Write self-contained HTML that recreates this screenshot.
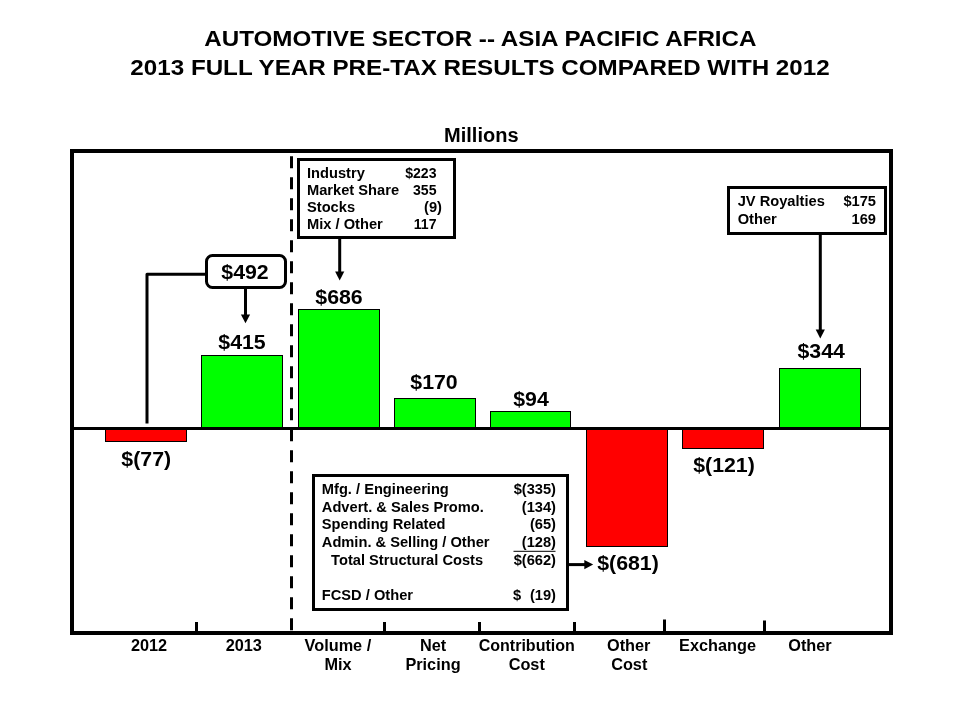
<!DOCTYPE html>
<html lang="en"><head><meta charset="utf-8"><title>Automotive Sector -- Asia Pacific Africa</title>
<style>
html,body{margin:0;padding:0;background:#fff;}
body{width:960px;height:720px;overflow:hidden;position:relative;}
svg{position:absolute;left:0;top:0;display:block;}
text{font-family:"Liberation Sans",Arial,Helvetica,sans-serif;font-weight:bold;fill:#000;}
</style></head><body>
<svg width="960" height="720" viewBox="0 0 960 720">
<rect width="960" height="720" fill="#fff"/>
<rect x="105.5" y="429.5" width="81" height="12" fill="#ff0000" stroke="#000" stroke-width="1"/>
<rect x="201.5" y="355.5" width="81" height="72" fill="#00ff00" stroke="#000" stroke-width="1"/>
<rect x="298.5" y="309.5" width="81" height="118" fill="#00ff00" stroke="#000" stroke-width="1"/>
<rect x="394.5" y="398.5" width="81" height="29" fill="#00ff00" stroke="#000" stroke-width="1"/>
<rect x="490.5" y="411.5" width="80" height="16" fill="#00ff00" stroke="#000" stroke-width="1"/>
<rect x="586.5" y="429.5" width="81" height="117" fill="#ff0000" stroke="#000" stroke-width="1"/>
<rect x="682.5" y="429.5" width="81" height="19" fill="#ff0000" stroke="#000" stroke-width="1"/>
<rect x="779.5" y="368.5" width="81" height="59" fill="#00ff00" stroke="#000" stroke-width="1"/>
<rect x="72" y="151" width="819" height="482" fill="none" stroke="#000" stroke-width="4"/>
<rect x="72" y="427" width="819" height="3" fill="#000"/>
<rect x="195" y="622" width="3" height="10" fill="#000"/>
<rect x="383" y="622" width="3" height="10" fill="#000"/>
<rect x="478" y="622" width="3" height="10" fill="#000"/>
<rect x="573" y="622" width="3" height="10" fill="#000"/>
<rect x="663" y="619.5" width="3" height="12.5" fill="#000"/>
<rect x="763" y="620.5" width="3" height="11.5" fill="#000"/>
<line x1="291.5" y1="156.25" x2="291.5" y2="632" stroke="#000" stroke-width="3" stroke-dasharray="12 9"/>
<polyline points="147,423.4 147,274.2 206,274.2" fill="none" stroke="#000" stroke-width="3" stroke-linejoin="round"/>
<rect x="206.5" y="255.5" width="79" height="32" rx="6" ry="6" fill="#fff" stroke="#000" stroke-width="3"/>
<line x1="245.5" y1="288" x2="245.5" y2="317.3" stroke="#000" stroke-width="3"/>
<polygon points="240.9,314.40000000000003 250.1,314.40000000000003 245.5,323.3" fill="#000"/>
<rect x="298.5" y="159.5" width="156" height="78" fill="#fff" stroke="#000" stroke-width="3"/>
<line x1="339.7" y1="238" x2="339.7" y2="274.4" stroke="#000" stroke-width="3"/>
<polygon points="335.09999999999997,271.5 344.3,271.5 339.7,280.4" fill="#000"/>
<rect x="728.5" y="187.5" width="157" height="46" fill="#fff" stroke="#000" stroke-width="3"/>
<line x1="820.3" y1="234" x2="820.3" y2="332.5" stroke="#000" stroke-width="3"/>
<polygon points="815.6999999999999,329.6 824.9,329.6 820.3,338.5" fill="#000"/>
<rect x="313.5" y="475.5" width="254" height="134" fill="#fff" stroke="#000" stroke-width="3"/>
<line x1="569" y1="564.6" x2="587" y2="564.6" stroke="#000" stroke-width="3"/>
<polygon points="584.3,560 584.3,569.2 593.2,564.6" fill="#000"/>
<rect x="513.5" y="550.8" width="42" height="1" fill="#000"/>
<text transform="translate(480.4,45.8) scale(1,0.945)" font-size="24.2" text-anchor="middle">AUTOMOTIVE SECTOR -- ASIA PACIFIC AFRICA</text>
<text transform="translate(480,74.6) scale(1,0.945)" font-size="24.2" text-anchor="middle">2013 FULL YEAR PRE-TAX RESULTS COMPARED WITH 2012</text>
<text x="481.3" y="141.7" font-size="20" text-anchor="middle">Millions</text>
<text transform="translate(146.2,465.8) scale(1,0.975)" font-size="21.33" text-anchor="middle">$(77)</text>
<text transform="translate(242,348.9) scale(1,0.975)" font-size="21.33" text-anchor="middle">$415</text>
<text transform="translate(245,279) scale(1,0.975)" font-size="21.33" text-anchor="middle">$492</text>
<text transform="translate(339,303.5) scale(1,0.975)" font-size="21.33" text-anchor="middle">$686</text>
<text transform="translate(434,388.6) scale(1,0.975)" font-size="21.33" text-anchor="middle">$170</text>
<text transform="translate(531,406) scale(1,0.975)" font-size="21.33" text-anchor="middle">$94</text>
<text transform="translate(628,569.8) scale(1,0.975)" font-size="21.33" text-anchor="middle">$(681)</text>
<text transform="translate(724,471.8) scale(1,0.975)" font-size="21.33" text-anchor="middle">$(121)</text>
<text transform="translate(821.2,357.5) scale(1,0.975)" font-size="21.33" text-anchor="middle">$344</text>
<text x="149" y="651" font-size="16.3" text-anchor="middle">2012</text>
<text x="243.75" y="651" font-size="16.3" text-anchor="middle">2013</text>
<text x="337.9" y="651" font-size="16.3" text-anchor="middle">Volume /</text>
<text x="338" y="670" font-size="16.3" text-anchor="middle">Mix</text>
<text x="433" y="651" font-size="16.3" text-anchor="middle">Net</text>
<text x="433" y="670" font-size="16.3" text-anchor="middle">Pricing</text>
<text x="526.75" y="651" font-size="16.05" text-anchor="middle">Contribution</text>
<text x="526.75" y="670" font-size="16.3" text-anchor="middle">Cost</text>
<text x="628.75" y="651" font-size="16.3" text-anchor="middle">Other</text>
<text x="629.25" y="670" font-size="16.3" text-anchor="middle">Cost</text>
<text x="717.5" y="651" font-size="16.3" text-anchor="middle">Exchange</text>
<text x="810" y="651" font-size="16.3" text-anchor="middle">Other</text>
<text x="307" y="177.7" font-size="14.67" text-anchor="start">Industry</text>
<text x="436.5" y="177.7" font-size="14.1" text-anchor="end">$223</text>
<text x="307" y="194.64999999999998" font-size="14.67" text-anchor="start">Market Share</text>
<text x="436.5" y="194.64999999999998" font-size="14.1" text-anchor="end">355</text>
<text x="307" y="211.6" font-size="14.67" text-anchor="start">Stocks</text>
<text x="442" y="211.6" font-size="14.67" text-anchor="end">(9)</text>
<text x="307" y="228.54999999999998" font-size="14.67" text-anchor="start">Mix / Other</text>
<text x="436.5" y="228.54999999999998" font-size="14.1" text-anchor="end">117</text>
<text x="737.7" y="206.0" font-size="14.67" text-anchor="start">JV Royalties</text>
<text x="876" y="206.0" font-size="14.67" text-anchor="end">$175</text>
<text x="737.7" y="223.8" font-size="14.67" text-anchor="start">Other</text>
<text x="876" y="223.8" font-size="14.67" text-anchor="end">169</text>
<text x="321.8" y="494.2" font-size="14.67" text-anchor="start">Mfg. / Engineering</text>
<text x="556" y="494.2" font-size="14.67" text-anchor="end">$(335)</text>
<text x="321.8" y="511.8" font-size="14.67" text-anchor="start">Advert. &amp; Sales Promo.</text>
<text x="556" y="511.8" font-size="14.67" text-anchor="end">(134)</text>
<text x="321.8" y="529.4" font-size="14.67" text-anchor="start">Spending Related</text>
<text x="556" y="529.4" font-size="14.67" text-anchor="end">(65)</text>
<text x="321.8" y="547.0" font-size="14.67" text-anchor="start">Admin. &amp; Selling / Other</text>
<text x="556" y="547.0" font-size="14.67" text-anchor="end">(128)</text>
<text x="331.1" y="564.6" font-size="14.67" text-anchor="start">Total Structural Costs</text>
<text x="556" y="564.6" font-size="14.67" text-anchor="end">$(662)</text>
<text x="321.8" y="599.8" font-size="14.67" text-anchor="start">FCSD / Other</text>
<text x="556" y="599.8" font-size="14.67" text-anchor="end">(19)</text>
<text x="513" y="599.8" font-size="14.67" text-anchor="start">$</text>
</svg>
</body></html>
